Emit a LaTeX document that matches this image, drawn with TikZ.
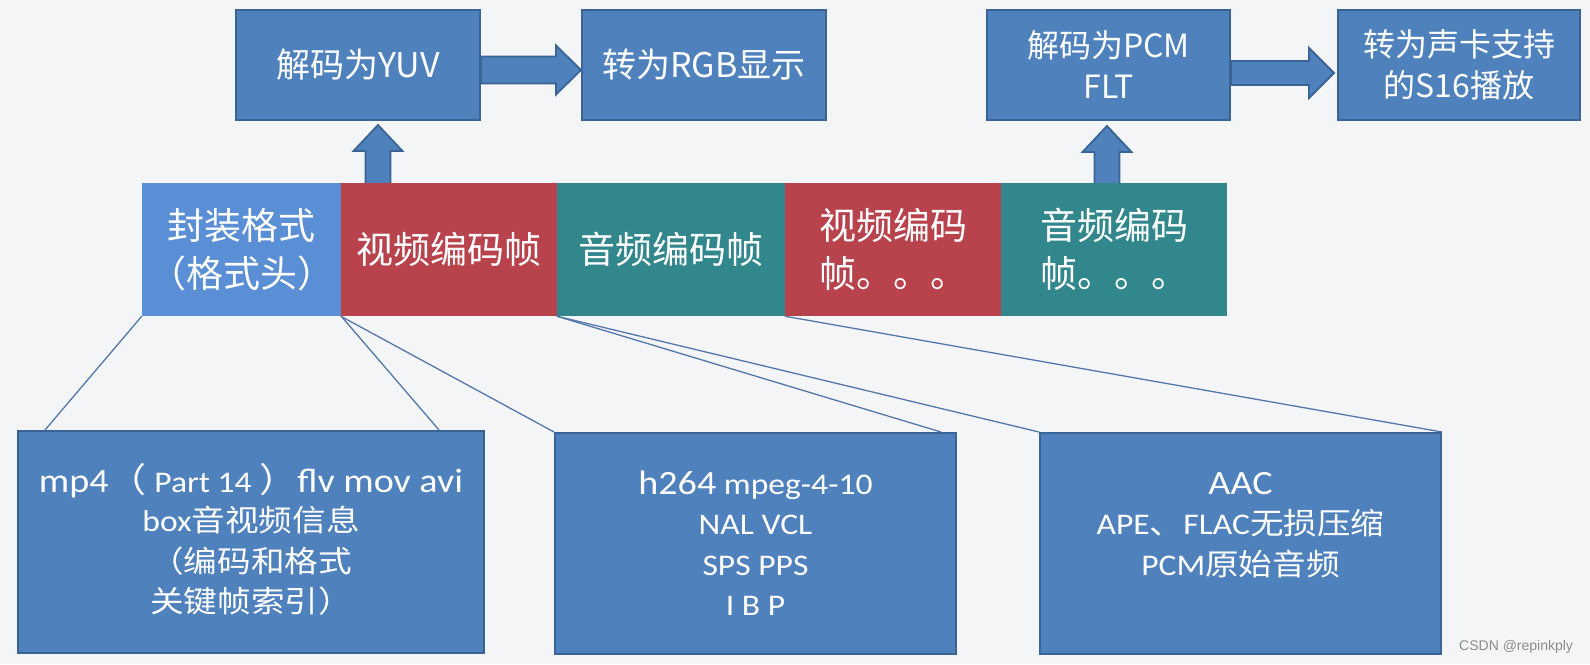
\documentclass[tikz,border=0pt]{standalone}
\usepackage{fontspec}
\setmainfont{Carlito}[FakeStretch=1.12]
\newfontfamily\cjk{Noto Sans CJK SC}
\newfontfamily\cjkw{Noto Sans CJK SC}[FakeStretch=1.12]
\newfontfamily\wmfont{Liberation Sans}
\usetikzlibrary{calc}
\definecolor{bg}{HTML}{F4F5F7}
\definecolor{boxblue}{HTML}{4F81BD}
\definecolor{boxline}{HTML}{3B6496}
\definecolor{fmtblue}{HTML}{5A8FD5}
\definecolor{segred}{HTML}{B8434D}
\definecolor{segteal}{HTML}{32878D}
\definecolor{connblue}{HTML}{5577AA}
\definecolor{wmgray}{HTML}{8C8C8C}
\tikzset{
  topbox/.style={draw=boxline, line width=2pt, fill=boxblue, text=white, inner sep=0pt,
    align=center, minimum height=110pt, font=\cjk\fontsize{34}{41}\selectfont},
  topbox2/.style={topbox, font=\cjk\fontsize{32}{41}\selectfont},
  seg/.style={inner sep=0pt, text=white, align=center, minimum height=133pt,
    font=\cjk\fontsize{37}{48}\selectfont},
  botbox/.style={draw=boxline, line width=2pt, fill=boxblue, inner sep=0pt},
  ltxt/.style={anchor=base, text=white, inner sep=0pt, font=\fontsize{30}{40}\selectfont},
  conn/.style={draw=connblue, line width=1.3pt},
  blockarr/.style={draw=boxline, line width=1.8pt, fill=boxblue, line join=miter},
}
\newcommand\upblockarrow[2]{%
  \draw[blockarr] ($(#2)+(-12.5,0)$) -- ($(#1)+(-12.5,26)$) -- ($(#1)+(-24.5,26)$)
    -- (#1) -- ($(#1)+(24.5,26)$) -- ($(#1)+(12.5,26)$) -- ($(#2)+(12.5,0)$) -- cycle;}
\begin{document}
\begin{tikzpicture}[x=1pt,y=-1pt]
\fill[bg] (0,0) rectangle (1590,664);
\useasboundingbox (0,0) rectangle (1590,664);

% top boxes
\node[topbox, minimum width=244pt] (yuv) at (358,65) {解码为YUV};
\node[topbox, minimum width=244pt] (rgb) at (704,65) {转为RGB显示};
\node[topbox2, minimum width=243pt] (pcm) at (1108.5,65) {解码为PCM\\FLT};
\node[topbox2, minimum width=242pt] (s16) at (1459,65) {转为声卡支持\\的S16播放};

% bar segment centres
\path (241.5,249.5) coordinate (fmtc) (449,249.5) coordinate (vf1c)
      (671,249.5) coordinate (af1c) (893,249.5) coordinate (vf2c)
      (1114,249.5) coordinate (af2c);

% horizontal block arrows
\draw[blockarr] ($(yuv.east)+(0,-8.5)$) -- ($(rgb.west)+(-25,-8.5)$) -- ($(rgb.west)+(-25,-19.5)$)
  -- ($(rgb.west)+(0,5)$) -- ($(rgb.west)+(-25,29.5)$) -- ($(rgb.west)+(-25,18.5)$)
  -- ($(yuv.east)+(0,18.5)$) -- cycle;
\draw[blockarr] ($(pcm.east)+(0,-4)$) -- ($(s16.west)+(-28,-4)$) -- ($(s16.west)+(-28,-17)$)
  -- ($(s16.west)+(-3,8)$) -- ($(s16.west)+(-28,33)$) -- ($(s16.west)+(-28,20)$)
  -- ($(pcm.east)+(0,20)$) -- cycle;

% vertical block arrows
\coordinate (vtip) at ($(yuv.south)+(20,4)$);
\coordinate (vbase) at (vtip |- vf1c);
\upblockarrow{vtip}{vbase}
\coordinate (atip) at ($(pcm.south)+(-1.5,5)$);
\coordinate (abase) at (atip |- af2c);
\upblockarrow{atip}{abase}

% bar
\node[seg, fill=fmtblue, minimum width=199pt] (fmt) at (fmtc) {封装格式\\（格式头）};
\node[seg, fill=segred, minimum width=216pt] (vf1) at (vf1c) {视频编码帧};
\node[seg, fill=segteal, minimum width=228pt] (af1) at (af1c) {音频编码帧};
\node[seg, fill=segred, minimum width=216pt] (vf2) at (vf2c) {视频编码\\帧。。。};
\node[seg, fill=segteal, minimum width=226pt] (af2) at (af2c) {音频编码\\帧。。。};

% bottom boxes
\node[botbox, minimum width=466pt, minimum height=222pt] (b1) at (251,542) {};
\node[botbox, minimum width=401pt, minimum height=221pt] (b2) at (755.5,543.5) {};
\node[botbox, minimum width=401pt, minimum height=221pt] (b3) at (1240.5,543.5) {};

% connectors
\draw[conn] (fmt.south west) -- ($(b1.north west)+(28,0)$);
\draw[conn] (fmt.south east) -- ($(b1.north east)+(-46,0)$);
\draw[conn] (vf1.south west) -- (b2.north west);
\draw[conn] (af1.south west) -- ($(b2.north east)+(-16,0)$);
\draw[conn] (af1.south west) -- (b3.north west);
\draw[conn] (vf2.south west) -- (b3.north east);

% box texts
\node[ltxt] (b1a) at (251,492) {\fontsize{34}{40}\selectfont mp4{\cjkw （}{\fontsize{30}{40}\selectfont\ Part 14\ }{\cjkw ）}flv mov avi};
\node[ltxt] (b1b) at (251,531) {box{\cjkw 音视频信息}};
\node[ltxt] (b1c) at (251,572) {\cjkw （编码和格式};
\node[ltxt] (b1d) at (251,612) {\cjkw 关键帧索引）};

\node[ltxt] (b2a) at (755.5,494) {{\fontsize{34}{40}\selectfont h264} mpeg-4-10};
\node[ltxt] (b2b) at (755.5,534) {NAL VCL};
\node[ltxt] (b2c) at (755.5,575) {SPS PPS};
\node[ltxt] (b2d) at (755.5,615) {I B P};

\node[ltxt] (b3a) at (1240.5,494) {\fontsize{34}{40}\selectfont AAC};
\node[ltxt] (b3b) at (1240.5,534) {APE{\cjkw 、}FLAC{\cjkw 无损压缩}};
\node[ltxt] (b3c) at (1240.5,575) {PCM{\cjkw 原始音频}};

% watermark
\node[anchor=west, inner sep=0pt, text=wmgray, font=\wmfont\fontsize{14}{14}\selectfont] (wm) at (1459,647) {CSDN @repinkply};
\end{tikzpicture}
\end{document}
